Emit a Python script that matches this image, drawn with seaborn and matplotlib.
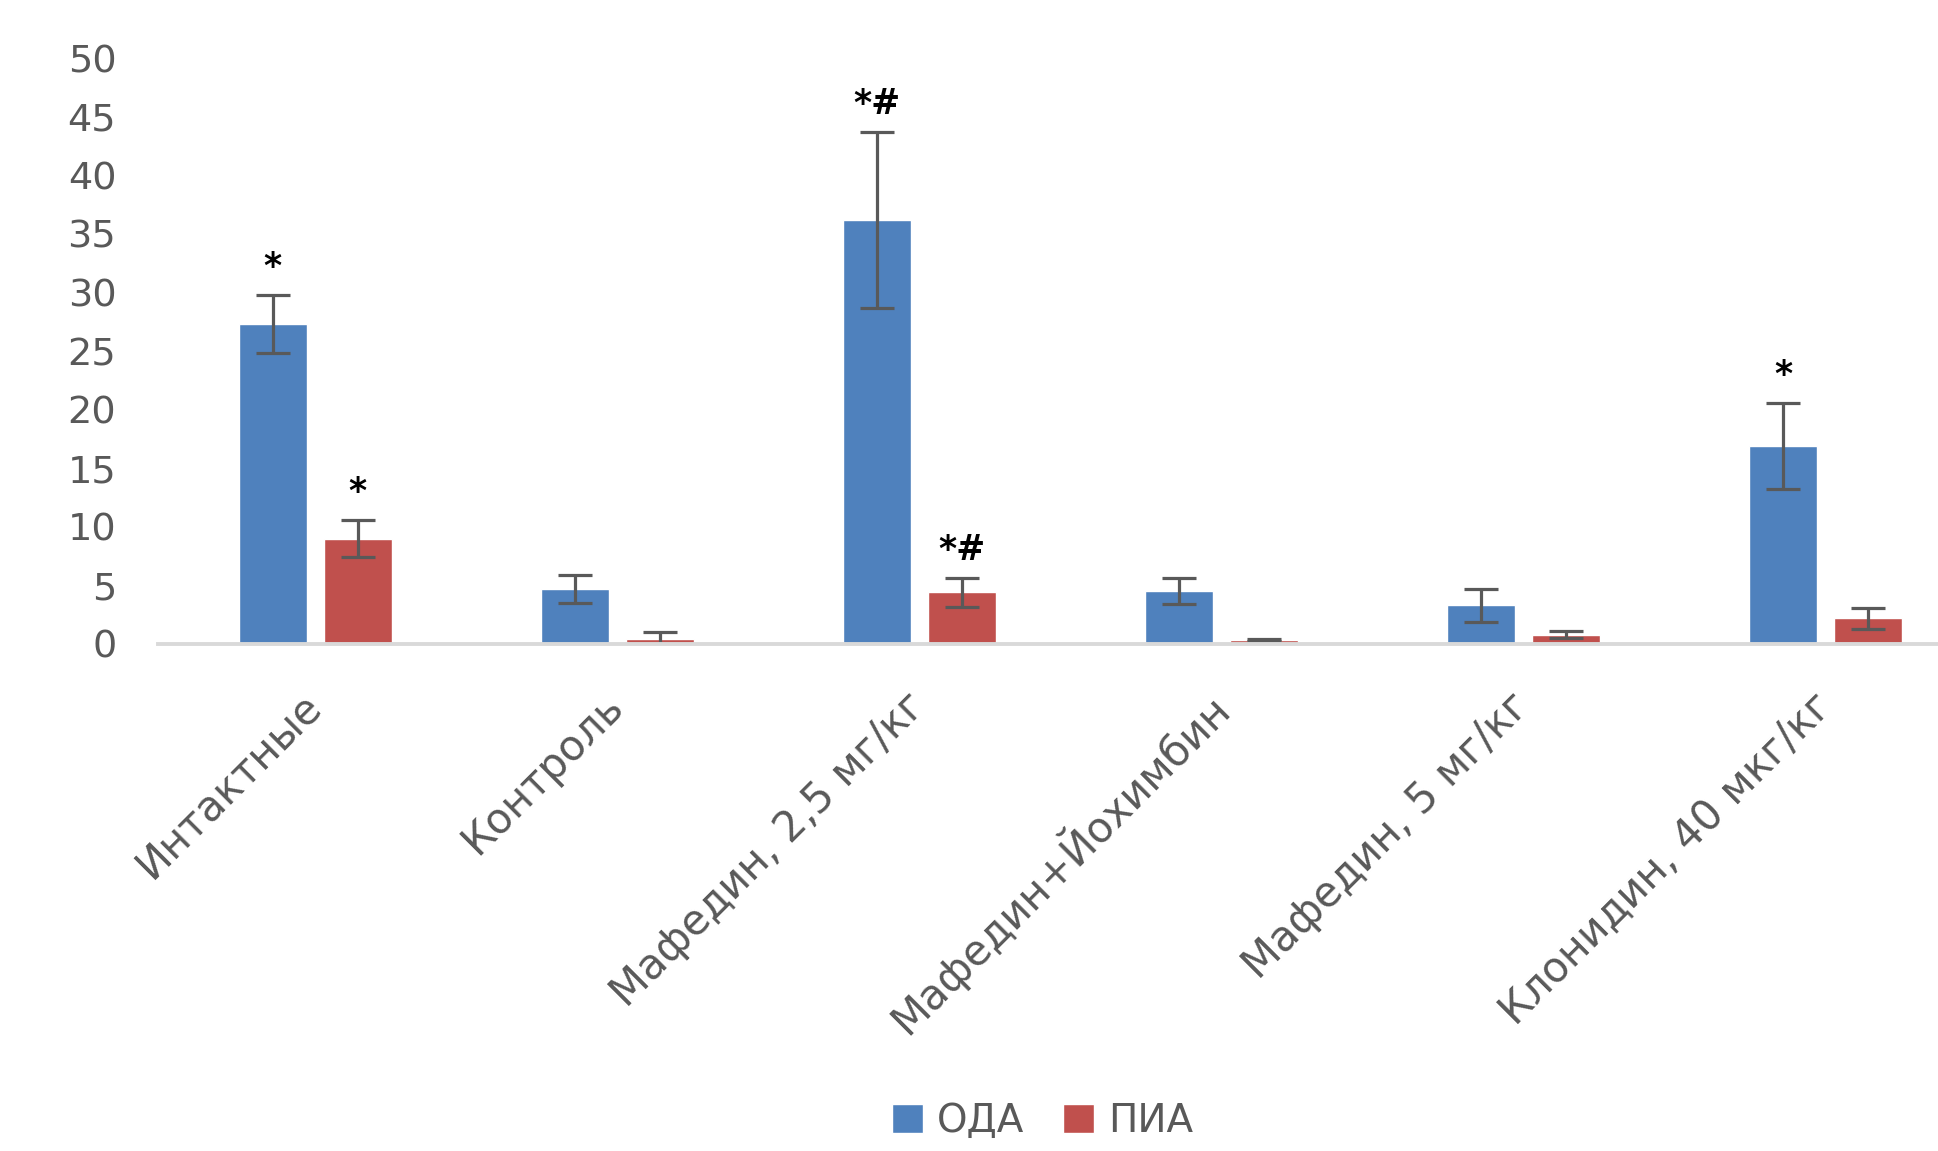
import matplotlib
matplotlib.use("Agg")
import matplotlib.pyplot as plt
import seaborn as sns
import pandas as pd

# Groups and measured values (mean ± error) for the two indicators
categories = ["Интактные", "Контроль", "Мафедин, 2,5 мг/кг",
              "Мафедин+Йохимбин", "Мафедин, 5 мг/кг", "Клонидин, 40 мкг/кг"]
series_names = ["ОДА", "ПИА"]
oda = [27.3, 4.7, 36.2, 4.5, 3.3, 16.9]
oda_err = [2.5, 1.2, 7.5, 1.1, 1.4, 3.7]
pia = [9.0, 0.45, 4.4, 0.35, 0.8, 2.2]
pia_err = [1.6, 0.55, 1.25, 0.1, 0.3, 0.9]
oda_marks = ["*", "", "*#", "", "", "*"]
pia_marks = ["*", "", "*#", "", "", ""]
y_ticks = [0, 5, 10, 15, 20, 25, 30, 35, 40, 45, 50]

BLUE = "#4F81BD"
RED = "#C0504D"
TEXT = "#595959"

sns.set_theme(style="white")
plt.rcParams["font.family"] = ["DejaVu Sans"]

df = pd.DataFrame({
    "group": categories * 2,
    "value": oda + pia,
    "series": [series_names[0]] * len(categories) + [series_names[1]] * len(categories),
})

fig = plt.figure(figsize=(19.38, 11.51), dpi=100)
ax = fig.add_axes([0.0815, 0.4405, 0.9185, 0.509])

sns.barplot(data=df, x="group", y="value", hue="series", order=categories,
            hue_order=series_names, palette=[BLUE, RED], saturation=1,
            width=0.563, gap=0.2, errorbar=None, ax=ax)

# Error bars and significance marks on top of each bar
for container, errs, marks in zip(ax.containers, [oda_err, pia_err], [oda_marks, pia_marks]):
    for bar, e, m in zip(container, errs, marks):
        x = bar.get_x() + bar.get_width() / 2
        h = bar.get_height()
        ax.errorbar(x, h, yerr=e, fmt="none", ecolor=TEXT, elinewidth=2.3,
                    capsize=12.5, capthick=2.3, zorder=4, clip_on=True)
        if m:
            ax.text(x, h + e + 0.9, m, ha="center", va="bottom", fontsize=25,
                    fontweight="bold", color="black", zorder=5)

ax.set_xlim(-0.52, 5.372)
ax.set_ylim(0, 50)
ax.set_yticks(y_ticks)
ax.set_xlabel("")
ax.set_ylabel("")

for s in ["top", "right", "left"]:
    ax.spines[s].set_visible(False)
ax.spines["bottom"].set_color("#D9D9D9")
ax.spines["bottom"].set_linewidth(2.8)
ax.spines["bottom"].set_zorder(6)

ax.tick_params(axis="y", length=0, pad=30, labelsize=27.5, labelcolor=TEXT)
ax.tick_params(axis="x", length=0, pad=40, labelsize=30, labelcolor=TEXT)
for lab in ax.get_xticklabels():
    lab.set_rotation(45)
    lab.set_ha("right")
    lab.set_va("center")
    lab.set_rotation_mode("anchor")

handles, labels = ax.get_legend_handles_labels()
ax.legend(handles, labels, loc="center", bbox_to_anchor=(0.538, 0.026),
          bbox_transform=fig.transFigure, ncol=2, frameon=False, fontsize=28,
          handlelength=0.8, handleheight=0.8, handletextpad=0.35,
          columnspacing=1.0, labelcolor=TEXT)

fig.savefig("out.png", dpi=100, facecolor="white")
